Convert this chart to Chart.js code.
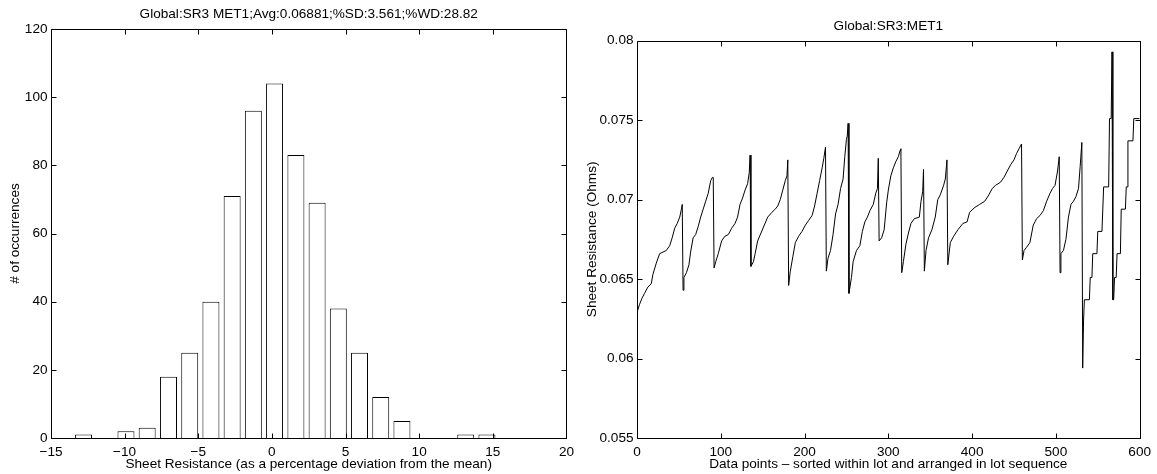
<!DOCTYPE html>
<html>
<head>
<meta charset="utf-8">
<title>SR3 MET1 sheet resistance</title>
<script src="https://cdn.jsdelivr.net/npm/chart.js@4.4.1/dist/chart.umd.min.js"></script>
<style>
  html, body { margin: 0; padding: 0; background: #fff; }
  #wrap { position: relative; width: 1157px; height: 474px; overflow: hidden; }
  canvas { position: absolute; top: 0; }
  #histChart { left: 0; }
  #seqChart { left: 580px; }
</style>
</head>
<body>
<div id="wrap">
  <canvas id="histChart" width="580" height="474"></canvas>
  <canvas id="seqChart" width="577" height="474"></canvas>
</div>
<script>
/* ====== DATA ====== */

// histogram: bin centres (% deviation from the mean) and counts per bin
const binCenters = [-12.79, -11.35, -9.91, -8.47, -7.02, -5.58, -4.14, -2.70, -1.26, 0.18,
  1.63, 3.07, 4.51, 5.95, 7.39, 8.83, 10.28, 11.72, 13.16, 14.60]
const binCounts = [1, 0, 2, 3, 18, 25, 40, 71, 96, 104, 83, 69, 38, 25, 12, 5, 0, 0, 1, 1]
const histTicksX = [-15, -10, -5, 0, 5, 10, 15, 20]
const histTicksY = [0, 20, 40, 60, 80, 100, 120]

// sequence plot: data point number and sheet resistance (ohms), one line per lot
const seqIndex = [
  0, 3, 6, 9, 13, 17, 19, 23, 27, 31, 35, 39, 42, 45, 48, 51, 53, 54,
  55, 56, 59, 62, 64, 67, 70, 73, 76, 79, 82, 85, 88, 90, 91,
  92, 94, 97, 101, 105, 109, 113, 117, 120, 123, 126, 129, 132, 134, 135,
  136, 139, 141, 144, 148, 152, 156, 161, 165, 168, 171, 174, 177, 179, 180,
  181, 183, 186, 189, 193, 197, 201, 205, 209, 212, 215, 218, 221, 223, 225,
  226, 228, 231, 234, 237, 240, 243, 246, 248, 250, 251, 252,
  253, 256, 258, 262, 266, 269, 272, 275, 278, 282, 285, 287, 288,
  289, 292, 295, 298, 300, 303, 306, 309, 312, 314, 315,
  316, 318, 321, 324, 327, 331, 337, 339, 341, 342,
  343, 345, 348, 352, 356, 359, 362, 366, 368, 370,
  371, 374, 378, 383, 389, 394, 397, 403, 409, 415, 420, 424, 428, 434, 438, 442, 446, 450, 453, 456, 459,
  460, 462, 465, 469, 473, 477, 481, 485, 489, 493, 496, 499, 502, 504,
  505, 506, 509, 512, 515, 518, 521, 524, 527, 529, 531,
  532, 533, 534, 540, 541, 543, 544, 549, 550, 555, 556, 557, 563, 564, 566, 567,
  568, 569, 570, 572, 573, 577, 578, 583, 584, 585, 586, 592, 593, 600
]
const seqOhms = [
  0.0629, 0.0634, 0.0638, 0.0641, 0.0645, 0.0647, 0.0653, 0.0660, 0.0666, 0.0667, 0.0668, 0.0671, 0.0676, 0.0682, 0.0685, 0.0689, 0.0694, 0.0697,
  0.0643, 0.0651, 0.0654, 0.0659, 0.0667, 0.0676, 0.0678, 0.0683, 0.0689, 0.0694, 0.0699, 0.0704, 0.0712, 0.0714, 0.0714,
  0.0657, 0.0661, 0.0666, 0.0674, 0.0677, 0.0678, 0.0682, 0.0685, 0.0689, 0.0697, 0.0701, 0.0706, 0.0710, 0.0717, 0.0728,
  0.0658, 0.0661, 0.0666, 0.0674, 0.0679, 0.0684, 0.0689, 0.0692, 0.0694, 0.0696, 0.0700, 0.0706, 0.0712, 0.0715, 0.0725,
  0.0646, 0.0655, 0.0664, 0.0673, 0.0677, 0.0680, 0.0684, 0.0687, 0.0690, 0.0696, 0.0704, 0.0712, 0.0720, 0.0726, 0.0733,
  0.0655, 0.0663, 0.0668, 0.0678, 0.0691, 0.0697, 0.0707, 0.0713, 0.0727, 0.0738, 0.0740, 0.0748,
  0.0641, 0.0651, 0.0661, 0.0668, 0.0671, 0.0680, 0.0686, 0.0689, 0.0693, 0.0697, 0.0704, 0.0707, 0.0726,
  0.0674, 0.0676, 0.0681, 0.0698, 0.0706, 0.0715, 0.0720, 0.0724, 0.0727, 0.0731, 0.0732,
  0.0654, 0.0661, 0.0672, 0.0679, 0.0685, 0.0688, 0.0689, 0.0699, 0.0705, 0.0719,
  0.0655, 0.0668, 0.0676, 0.0681, 0.0689, 0.0700, 0.0703, 0.0709, 0.0713, 0.0725,
  0.0659, 0.0673, 0.0677, 0.0681, 0.0685, 0.0686, 0.0692, 0.0695, 0.0697, 0.0699, 0.0703, 0.0707, 0.0709, 0.0711, 0.0714, 0.0718, 0.0722, 0.0725, 0.0729, 0.0732, 0.0735,
  0.0662, 0.0668, 0.0670, 0.0673, 0.0684, 0.0688, 0.0690, 0.0693, 0.0699, 0.0704, 0.0707, 0.0709, 0.0718, 0.0727,
  0.0654, 0.0666, 0.0668, 0.0675, 0.0689, 0.0697, 0.0699, 0.0702, 0.0707, 0.0721, 0.0736,
  0.0594, 0.0623, 0.0637, 0.0637, 0.0651, 0.0651, 0.0666, 0.0666, 0.0680, 0.0680, 0.0694, 0.0708, 0.0708, 0.0751, 0.0751, 0.0793,
  0.0637, 0.0637, 0.0651, 0.0651, 0.0666, 0.0666, 0.0694, 0.0694, 0.0708, 0.0708, 0.0737, 0.0737, 0.0751, 0.0751
]
const seqTicksX = [0, 100, 200, 300, 400, 500, 600]
const seqTicksY = [0.055, 0.06, 0.065, 0.07, 0.075, 0.08]

/* ====== HELPERS ====== */

const $ = id => document.getElementById(id)

Chart.defaults.font.family = '"Liberation Sans", Arial, Helvetica, sans-serif'
Chart.defaults.font.size = 13.6
Chart.defaults.color = '#000'

// matlab prints negative ticks with a real minus sign
const minus = v => v < 0 ? '\u2212' + Math.abs(v) : String(v)

// box round the plot with short ticks pointing inwards on every side
const boxTicks = {
  id: 'boxTicks',
  afterDraw(chart) {
    const { ctx, chartArea: a, scales } = chart
    const len = 5
    const L = Math.round(a.left) + 0.5, R = Math.round(a.right) + 0.5
    const T = Math.round(a.top) + 0.5, B = Math.round(a.bottom) + 0.5
    ctx.save()
    ctx.strokeStyle = '#000'
    ctx.lineWidth = 1
    ctx.beginPath()
    scales.x.ticks.forEach(t => {
      const px = Math.round(scales.x.getPixelForValue(t.value)) + 0.5
      ctx.moveTo(px, B); ctx.lineTo(px, B - len)
      ctx.moveTo(px, T); ctx.lineTo(px, T + len)
    })
    scales.y.ticks.forEach(t => {
      const py = Math.round(scales.y.getPixelForValue(t.value)) + 0.5
      ctx.moveTo(L, py); ctx.lineTo(L + len, py)
      ctx.moveTo(R, py); ctx.lineTo(R - len, py)
    })
    ctx.rect(L, T, R - L, B - T)
    ctx.stroke()
    ctx.restore()
  }
}

// linear axis with fixed ticks; size is the height (x) or width (y) of the axis band
function axis(ticks, fmt, title, titlePad, size, tickPad) {
  return {
    type: 'linear',
    offset: false,
    min: ticks[0],
    max: ticks[ticks.length - 1],
    grid: { display: false, drawTicks: false },
    border: { display: false },
    ticks: { padding: tickPad, autoSkip: false, maxRotation: 0, callback: v => fmt(v) },
    title: { display: true, text: title, padding: titlePad },
    afterBuildTicks: s => { s.ticks = ticks.map(v => ({ value: v })) },
    afterFit: s => { if (s.isHorizontal()) s.height = size; else s.width = size }
  }
}

function plotTitle(text, top, bottom) {
  return { display: true, fullSize: false, text, font: { size: 13.6, weight: 'normal' }, padding: { top, bottom } }
}

/* ====== HISTOGRAM ====== */

new Chart($('histChart'), {
  type: 'bar',
  data: {
    datasets: [{
      data: binCenters.map((x, i) => ({ x, y: binCounts[i] })),
      backgroundColor: '#fff', borderColor: '#000', borderWidth: 1,
      barPercentage: 0.8, categoryPercentage: 1
    }]
  },
  options: {
    responsive: false, animation: false, events: [],
    layout: { padding: { left: 0, right: 13, top: 0, bottom: 0 } },
    plugins: {
      legend: { display: false }, tooltip: { enabled: false },
      title: plotTitle('Global:SR3 MET1;Avg:0.06881;%SD:3.561;%WD:28.82', 6.3, 6.4)
    },
    scales: {
      x: axis(histTicksX, minus, 'Sheet Resistance (as a percentage deviation from the mean)', { top: 0, bottom: 1.8 }, 36, 6),
      y: axis(histTicksY, minus, '# of occurrences', { top: 6.6, bottom: 0 }, 51, 3.5)
    }
  },
  plugins: [boxTicks]
})

/* ====== SEQUENCE PLOT ====== */

new Chart($('seqChart'), {
  type: 'line',
  data: {
    datasets: [{
      data: seqIndex.map((x, i) => ({ x, y: seqOhms[i] })),
      borderColor: '#000', borderWidth: 1, pointRadius: 0, tension: 0, fill: false
    }]
  },
  options: {
    responsive: false, animation: false, events: [],
    layout: { padding: { left: 0, right: 14, top: 0, bottom: 0 } },
    plugins: {
      legend: { display: false }, tooltip: { enabled: false },
      title: plotTitle('Global:SR3:MET1', 18, 6.4)
    },
    scales: {
      x: axis(seqTicksX, v => String(v), 'Data points \u2013 sorted within lot and arranged in lot sequence', { top: 0, bottom: 1.8 }, 36, 6),
      y: axis(seqTicksY, v => String(+v.toFixed(3)), 'Sheet Resistance (Ohms)', { top: 3.8, bottom: 0 }, 57, 3.5)
    }
  },
  plugins: [boxTicks]
})
</script>
</body>
</html>
